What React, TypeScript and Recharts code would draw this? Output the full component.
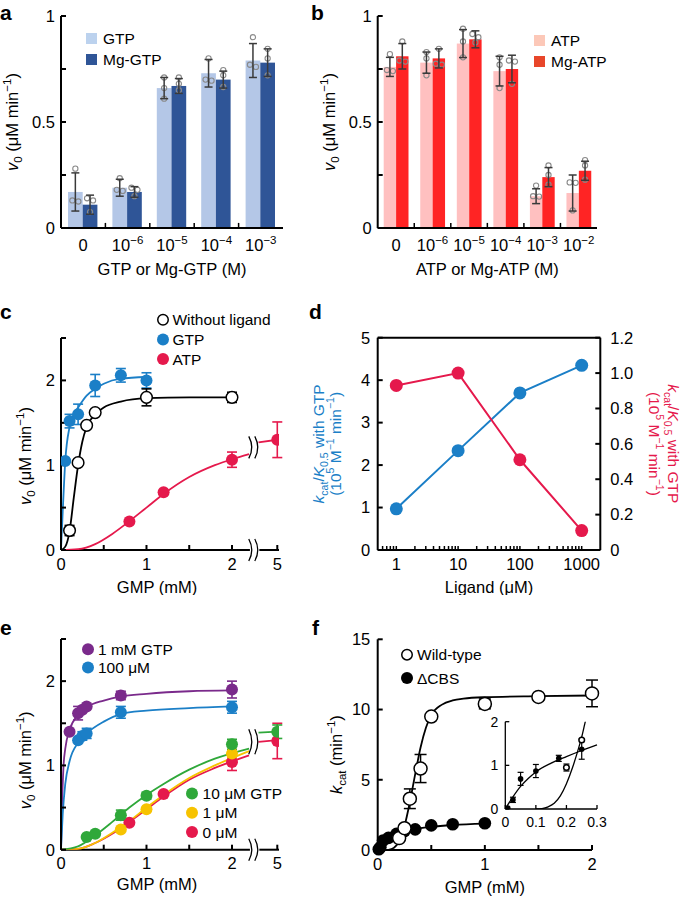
import React from "react";
import {
  ComposedChart,
  Bar,
  Line,
  Scatter,
  XAxis,
  YAxis,
  ErrorBar,
  ReferenceLine,
  ReferenceDot,
  Legend,
} from "recharts";

const FONT = "'Liberation Sans', Arial, Helvetica, sans-serif";
const BLUE = "#1b7fc7";
const RED = "#e5194c";
const PURPLE = "#7a2a8b";
const GREEN = "#2fa83a";
const YELLOW = "#f7c300";

// ---- a: GTP / Mg-GTP
const gtpExp = ["0", "-6", "-5", "-4", "-3"];
const gtpMean = [0.17, 0.19, 0.66, 0.73, 0.79];
const gtpSd = [0.09, 0.04, 0.05, 0.065, 0.08];
const gtpReps = [[0.28, 0.13, 0.125], [0.235, 0.18, 0.175], [0.71, 0.66, 0.61], [0.8, 0.7, 0.695], [0.9, 0.77, 0.76]];
const mgGtpMean = [0.11, 0.17, 0.67, 0.7, 0.78];
const mgGtpSd = [0.045, 0.025, 0.035, 0.04, 0.065];
const mgGtpReps = [[0.14, 0.13, 0.075], [0.19, 0.18, 0.15], [0.71, 0.68, 0.65], [0.745, 0.72, 0.665], [0.845, 0.8, 0.72]];

// ---- b: ATP / Mg-ATP
const atpExp = ["0", "-6", "-5", "-4", "-3", "-2"];
const atpMean = [0.76, 0.78, 0.87, 0.74, 0.15, 0.165];
const atpSd = [0.045, 0.05, 0.066, 0.07, 0.035, 0.085];
const atpReps = [[0.82, 0.745, 0.74], [0.83, 0.8, 0.72], [0.94, 0.88, 0.805], [0.805, 0.77, 0.66], [0.2, 0.15, 0.148], [0.215, 0.213, 0.083]];
const mgAtpMean = [0.81, 0.8, 0.89, 0.75, 0.24, 0.27];
const mgAtpSd = [0.06, 0.045, 0.04, 0.065, 0.045, 0.045];
const mgAtpReps = [[0.88, 0.79, 0.785], [0.845, 0.775, 0.77], [0.915, 0.9, 0.875], [0.79, 0.785, 0.68], [0.295, 0.25, 0.205], [0.32, 0.295, 0.228]];

// ---- c: v0 vs GMP
const cFreeX = [0.1, 0.2, 0.3, 0.4, 1, 2];
const cFreeY = [0.23, 1.03, 1.47, 1.62, 1.8, 1.8];
const cFreeErr = [0.06, 0, 0, 0, 0.1, 0.06];
const cGtpX = [0.05, 0.1, 0.2, 0.4, 0.7, 1];
const cGtpY = [1.05, 1.52, 1.6, 1.94, 2.06, 2.0];
const cGtpErr = [0, 0.08, 0.12, 0.13, 0.08, 0.09];
const cAtpX = [0.8, 1.2, 2, 5];
const cAtpY = [0.335, 0.68, 1.065, 1.3];
const cAtpErr = [0, 0, 0.09, 0.21];
const cFreeFitX = [0, 0.05, 0.1, 0.15, 0.2, 0.25, 0.3, 0.4, 0.5, 0.7, 1, 1.5, 2];
const cFreeFitY = [0, 0.04, 0.22, 0.62, 1.0, 1.28, 1.45, 1.6, 1.68, 1.75, 1.79, 1.8, 1.8];
const cGtpFitX = [0, 0.02, 0.05, 0.1, 0.15, 0.2, 0.3, 0.4, 0.5, 0.7, 1];
const cGtpFitY = [0, 0.45, 1.05, 1.45, 1.6, 1.68, 1.82, 1.9, 1.96, 2.02, 2.04];
const cAtpFitX = [0, 0.2, 0.4, 0.6, 0.8, 1, 1.2, 1.5, 1.8, 2, 2.2];
const cAtpFitY = [0, 0.01, 0.07, 0.19, 0.34, 0.5, 0.66, 0.86, 1.0, 1.07, 1.13];
const cAtpTailX = [2.8, 5];
const cAtpTailY = [1.27, 1.3];

// ---- d: kcat/K0.5 vs ligand
const dLigand = [1, 10, 100, 1000];
const dGtpEff = [0.97, 2.34, 3.7, 4.35];
const dAtpEff = [0.93, 1.0, 0.51, 0.11];
const dDecades = [1, 10, 100, 1000];

// ---- e: GTP titration
const eG1000X = [0.1, 0.2, 0.25, 0.3, 0.7, 2];
const eG1000Y = [1.4, 1.62, 1.66, 1.7, 1.83, 1.9];
const eG1000Err = [0, 0.08, 0, 0, 0.05, 0.1];
const eG100X = [0.2, 0.25, 0.3, 0.7, 2];
const eG100Y = [1.3, 1.35, 1.38, 1.63, 1.69];
const eG100Err = [0, 0.05, 0.06, 0.07, 0.07];
const eG10X = [0.3, 0.4, 0.7, 1, 2, 5];
const eG10Y = [0.15, 0.19, 0.41, 0.64, 1.25, 1.4];
const eG10Err = [0, 0, 0.06, 0.04, 0.06, 0.08];
const eG1X = [0.7, 1, 2];
const eG1Y = [0.24, 0.48, 1.14];
const eG1Err = [0, 0, 0.05];
const eG0X = [0.8, 1.2, 2, 5];
const eG0Y = [0.32, 0.66, 1.04, 1.29];
const eG0Err = [0, 0, 0.1, 0.21];
const eG1000FitX = [0, 0.01, 0.03, 0.05, 0.1, 0.2, 0.3, 0.5, 0.7, 1, 1.5, 2];
const eG1000FitY = [0, 0.45, 1.0, 1.2, 1.42, 1.6, 1.69, 1.77, 1.82, 1.85, 1.88, 1.89];
const eG100FitX = [0, 0.02, 0.05, 0.1, 0.2, 0.3, 0.5, 0.7, 1, 1.5, 2];
const eG100FitY = [0, 0.42, 0.78, 1.05, 1.27, 1.38, 1.52, 1.61, 1.65, 1.68, 1.7];
const eLowFitX = [0, 0.2, 0.4, 0.6, 0.8, 1, 1.2, 1.5, 1.8, 2.2];
const eG10FitY = [0, 0.04, 0.17, 0.33, 0.5, 0.65, 0.78, 0.95, 1.08, 1.2];
const eG1FitY = [0, 0.01, 0.08, 0.2, 0.34, 0.5, 0.65, 0.85, 1.0, 1.17];
const eG0FitY = [0, 0.01, 0.08, 0.19, 0.33, 0.48, 0.63, 0.83, 0.97, 1.12];
const eTailX = [2.8, 5];
const eG10TailY = [1.39, 1.4];
const eG0TailY = [1.28, 1.3];

// ---- f: kcat, wild-type vs dCBS
const fWtX = [0.2, 0.25, 0.3, 0.4, 0.5, 1, 1.5, 2];
const fWtY = [0.85, 1.55, 3.65, 5.8, 9.5, 10.4, 10.9, 11.15];
const fWtErr = [0, 0, 0.7, 1.0, 0, 0.35, 0, 0.95];
const fCbsX = [0.01, 0.025, 0.05, 0.1, 0.175, 0.25, 0.35, 0.5, 0.7, 1];
const fCbsY = [0.05, 0.2, 0.68, 0.86, 1.15, 1.35, 1.47, 1.75, 1.83, 1.9];
const fWtFitX = [0.1, 0.15, 0.2, 0.25, 0.3, 0.35, 0.4, 0.45, 0.5, 0.6, 0.7, 0.8, 1, 1.5, 2];
const fWtFitY = [0, 0.15, 0.6, 1.7, 3.4, 5.4, 7.3, 8.7, 9.6, 10.35, 10.65, 10.78, 10.88, 10.95, 11.0];
const fCbsFitX = [0, 0.05, 0.1, 0.2, 0.3, 0.5, 0.7, 1];
const fCbsFitY = [0, 0.52, 0.85, 1.2, 1.42, 1.65, 1.78, 1.88];
// inset
const inWtX = [0.2, 0.25];
const inWtY = [0.95, 1.58];
const inWtErr = [0.08, 0];
const inCbsX = [0.008, 0.025, 0.05, 0.1, 0.175, 0.25];
const inCbsY = [0.02, 0.21, 0.69, 0.87, 1.16, 1.37];
const inCbsErr = [0, 0.06, 0.15, 0.15, 0.07, 0.23];
const inCbsFitX = [0, 0.025, 0.05, 0.075, 0.1, 0.15, 0.2, 0.25, 0.3];
const inCbsFitY = [0, 0.28, 0.52, 0.7, 0.85, 1.05, 1.2, 1.34, 1.47];
const inWtFitX = [0.1, 0.12, 0.14, 0.16, 0.18, 0.2, 0.22, 0.24, 0.25, 0.26, 0.265];
const inWtFitY = [0, 0.01, 0.05, 0.13, 0.3, 0.58, 0.95, 1.4, 1.65, 1.95, 2.1];

// broken GMP axis: everything past the break is squeezed next to "5"
const brk = (v: number) => (v <= 2.25 ? v : 2.53 - (5 - v) * 0.1);
const pts = (xs: number[], ys: number[], es?: number[]) =>
  xs.map((x, i) => ({ x: brk(x), y: ys[i], e: es ? es[i] : 0 }));

const axisLine = { stroke: "#000", strokeWidth: 2 };
const tickFont = { fill: "#000", fontSize: 16.5, fontFamily: FONT };

function spread(vals: number[]) {
  const offs = vals.map(() => 0);
  const used = new Set<number>();
  vals.forEach((v) => {
    const group = vals.map((_, j) => j).filter((j) => !used.has(j) && Math.abs(vals[j] - v) < 0.022);
    group.forEach((j, k) => {
      offs[j] = (k - (group.length - 1) / 2) * 6;
      used.add(j);
    });
  });
  return offs;
}

const barWithReps = (key: string) => (p: any) => {
  const { x, y, width, height, fill, payload } = p;
  const v = Array.isArray(p.value) ? p.value[1] : p.value;
  const base = y + height;
  const k = height / v;
  const reps: number[] = payload[key];
  const offs = spread(reps);
  return (
    <g>
      <rect x={x} y={y} width={width} height={height} fill={fill} />
      {reps.map((r, i) => (
        <circle key={i} cx={x + width / 2 + offs[i]} cy={base - r * k} r={2.6} fill="none" stroke="#8a8a8a" strokeWidth={1.1} />
      ))}
    </g>
  );
};

const powTick = (labels: string[]) => (p: any) => {
  const e = labels[p.payload.value];
  return (
    <text x={p.x} y={p.y} dy="0.71em" textAnchor="middle" fontSize={16.5} fontFamily={FONT} fill="#000">
      {e === "0" ? "0" : (
        <>
          10<tspan fontSize={11.5} dy={-7}>{"\u2212" + e.slice(1)}</tspan>
        </>
      )}
    </text>
  );
};

const yTitle = (content: React.ReactNode, dx: number, dy = 0, angle = -90, fill = "#000", size = 16.5) => (p: any) => {
  const vb = p.viewBox;
  const x = vb.x + dx;
  const y = vb.y + vb.height / 2 + dy;
  return (
    <text transform={`translate(${x},${y}) rotate(${angle})`} textAnchor="middle" fontSize={size} fontFamily={FONT} fill={fill}>
      {content}
    </text>
  );
};

const xTitle = (content: React.ReactNode, dx: number, dy: number) => (p: any) => {
  const vb = p.viewBox;
  return (
    <text x={vb.x + vb.width / 2 + dx} y={vb.y + dy} textAnchor="middle" fontSize={16.5} fontFamily={FONT} fill="#000">
      {content}
    </text>
  );
};

const V0 = (
  <>
    <tspan fontStyle="italic">v</tspan>
    <tspan fontSize={11.5} dy={4}>0</tspan>
    <tspan dy={-4}> (μM min</tspan>
    <tspan fontSize={11.5} dy={-7}>−1</tspan>
    <tspan dy={7}>)</tspan>
  </>
);

const effLine1 = (
  <>
    <tspan fontStyle="italic">k</tspan>
    <tspan fontSize={10.5} dy={4}>cat</tspan>
    <tspan dy={-4}>/</tspan>
    <tspan fontStyle="italic">K</tspan>
    <tspan fontSize={10.5} dy={4}>0.5</tspan>
    <tspan dy={-4}> with GTP</tspan>
  </>
);
const effLine2 = (
  <>
    (10<tspan fontSize={10.5} dy={-7}>5</tspan>
    <tspan dy={7}> M</tspan>
    <tspan fontSize={10.5} dy={-7}>−1</tspan>
    <tspan dy={7}> min</tspan>
    <tspan fontSize={10.5} dy={-7}>−1</tspan>
    <tspan dy={7}>)</tspan>
  </>
);
const effTitle = (gap: number) => (
  <>
    <tspan x={0} y={0}>{effLine1}</tspan>
    <tspan x={0} y={gap}>{effLine2}</tspan>
  </>
);

type LegItem = { label: React.ReactNode; kind: "swatch" | "open" | "dot"; color: string };
const legendBox = (items: LegItem[], rowH: number, textX: number, size: number) => () => (
  <svg width={160} height={items.length * rowH} style={{ display: "block", overflow: "visible" }}>
    {items.map((it, i) => {
      const cy = i * rowH + rowH / 2;
      return (
        <g key={i}>
          {it.kind === "swatch" ? (
            <rect x={0} y={cy - size / 2} width={size} height={size} fill={it.color} />
          ) : (
            <circle
              cx={size / 2}
              cy={cy}
              r={it.kind === "open" ? size / 2 - 0.75 : size / 2}
              fill={it.kind === "open" ? "#fff" : it.color}
              stroke={it.kind === "open" ? it.color : "none"}
              strokeWidth={1.5}
            />
          )}
          <text x={textX} y={cy} dy="0.36em" fontSize={15.5} fontFamily={FONT} fill="#000">
            {it.label}
          </text>
        </g>
      );
    })}
  </svg>
);

const breakMark = (h: number) => (p: any) => (
  <g fill="none" stroke="#000" strokeWidth={1.3}>
    <path d={`M${p.cx - 5},${p.cy - h} Q${p.cx + 1},${p.cy} ${p.cx - 5},${p.cy + h}`} />
    <path d={`M${p.cx + 1},${p.cy - h} Q${p.cx + 7},${p.cy} ${p.cx + 1},${p.cy + h}`} />
  </g>
);

const dotShape = (r: number, color: string, open = false) => (p: any) => (
  <circle cx={p.cx} cy={p.cy} r={r} fill={open ? "#fff" : color} stroke={color} strokeWidth={open ? 1.5 : 0} />
);

const Box = ({ left, top, children }: { left: number; top: number; children: React.ReactNode }) => (
  <div style={{ position: "absolute", left, top }}>{children}</div>
);

function BarPanel(props: {
  width: number;
  margin: any;
  exps: string[];
  meanA: number[];
  sdA: number[];
  repsA: number[][];
  meanB: number[];
  sdB: number[];
  repsB: number[][];
  colA: string;
  colB: string;
  barSize: number;
  title: React.ReactNode;
  yDx: number;
  legend: LegItem[];
  legendPos: { left: number; top: number };
}) {
  const rows = props.exps.map((e, i) => ({
    i,
    a: props.meanA[i],
    aSd: props.sdA[i],
    aReps: props.repsA[i],
    b: props.meanB[i],
    bSd: props.sdB[i],
    bReps: props.repsB[i],
  }));
  const n = props.exps.length;
  const bounds = props.exps.slice(1).map((_, i) => i + 0.5);
  return (
    <ComposedChart width={props.width} height={290} data={rows} margin={props.margin} barGap={0}>
      <XAxis
        dataKey="i"
        type="number"
        domain={[-0.5, n - 0.5]}
        ticks={rows.map((r) => r.i)}
        interval={0}
        height={1}
        axisLine={axisLine}
        tickLine={false}
        tickSize={0}
        tickMargin={11}
        tick={powTick(props.exps)}
        label={xTitle(props.title, 0, 47)}
      />
      <YAxis
        type="number"
        domain={[0, 1]}
        ticks={[0, 0.25, 0.5, 0.75, 1]}
        interval={0}
        width={1}
        axisLine={axisLine}
        tickLine={axisLine}
        tickSize={-5}
        tickMargin={11}
        tick={tickFont}
        tickFormatter={(v: number) => (v === 0.25 || v === 0.75 ? "" : String(v))}
        label={yTitle(V0, props.yDx)}
      />
      {bounds.map((b) => (
        <ReferenceLine key={b} segment={[{ x: b, y: 0 }, { x: b, y: 0.024 }]} stroke="#000" strokeWidth={1.5} />
      ))}
      <Bar dataKey="a" fill={props.colA} barSize={props.barSize} isAnimationActive={false} shape={barWithReps("aReps")}>
        <ErrorBar dataKey="aSd" direction="y" width={4} stroke="#3a3a3a" strokeWidth={1.5} />
      </Bar>
      <Bar dataKey="b" fill={props.colB} barSize={props.barSize} isAnimationActive={false} shape={barWithReps("bReps")}>
        <ErrorBar dataKey="bSd" direction="y" width={4} stroke="#3a3a3a" strokeWidth={1.5} />
      </Bar>
      <Legend
        layout="vertical"
        align="center"
        verticalAlign="middle"
        wrapperStyle={{ left: props.legendPos.left, top: props.legendPos.top, width: 160 }}
        content={legendBox(props.legend, 21, 17, 11)}
      />
    </ComposedChart>
  );
}

const gmpTicks = [0, 0.5, 1, 1.5, 2, brk(5)];
const gmpFmt = (v: number) => (v === brk(5) ? "5" : Number.isInteger(v) ? String(v) : "");

function GmpAxes(yDy: number, xDy: number) {
  return [
    <XAxis
      key="x"
      dataKey="x"
      type="number"
      domain={[0, 2.55]}
      allowDataOverflow
      ticks={gmpTicks}
      interval={0}
      height={1}
      axisLine={false}
      tickLine={axisLine}
      tickSize={-5}
      tickMargin={13}
      tick={tickFont}
      tickFormatter={gmpFmt}
      label={xTitle("GMP (mM)", -13, xDy)}
    />,
    <YAxis
      key="y"
      dataKey="y"
      type="number"
      domain={[0, 2.5]}
      allowDataOverflow
      ticks={[0, 0.5, 1, 1.5, 2, 2.5]}
      interval={0}
      width={1}
      axisLine={axisLine}
      tickLine={axisLine}
      tickSize={-5}
      tickMargin={11}
      tick={tickFont}
      tickFormatter={(v: number) => (Number.isInteger(v) && v < 2.5 ? String(v) : "")}
      label={yTitle(V0, -28.6, yDy)}
    />,
    <ReferenceLine key="ax1" segment={[{ x: 0, y: 0 }, { x: 2.21, y: 0 }]} stroke="#000" strokeWidth={2} ifOverflow="visible" />,
    <ReferenceLine key="ax2" segment={[{ x: 2.32, y: 0 }, { x: 2.55, y: 0 }]} stroke="#000" strokeWidth={2} ifOverflow="visible" />,
    <ReferenceDot key="bk" x={2.255} y={0} r={1} ifOverflow="visible" shape={breakMark(11)} />,
  ];
}

const fitLine = (key: string, xs: number[], ys: number[], color: string) => (
  <Line
    key={key}
    data={pts(xs, ys)}
    dataKey="y"
    type="monotone"
    stroke={color}
    strokeWidth={1.8}
    dot={false}
    activeDot={false}
    isAnimationActive={false}
  />
);

const scatter = (key: string, data: any[], color: string, r: number, open = false, errW = 5) => (
  <Scatter key={key} data={data} fill={color} isAnimationActive={false} shape={dotShape(r, color, open)}>
    <ErrorBar dataKey="e" direction="y" width={errW} stroke={color} strokeWidth={1.6} />
  </Scatter>
);

export default function App() {
  const dRows = dLigand.map((l, i) => ({ lig: l, gtp: dGtpEff[i], atp: dAtpEff[i] }));
  // minor log ticks up to the last decade
  const dTicks: number[] = [0.6, 0.7, 0.8, 0.9];
  dDecades.forEach((d) => [1, 2, 3, 4, 5, 6, 7, 8, 9].forEach((m) => d * m <= 1000 && dTicks.push(d * m)));

  return (
    <div style={{ position: "absolute", left: 0, top: 0, width: 685, height: 898, background: "#fff", fontFamily: FONT }}>
      {/* a */}
      <Box left={0} top={0}>
        <BarPanel
          width={300}
          margin={{ top: 16, left: 60, right: 17, bottom: 61 }}
          exps={gtpExp}
          meanA={gtpMean}
          sdA={gtpSd}
          repsA={gtpReps}
          meanB={mgGtpMean}
          sdB={mgGtpSd}
          repsB={mgGtpReps}
          colA="#b4c7e7"
          colB="#2f5597"
          barSize={14.7}
          title="GTP or Mg-GTP (M)"
          yDx={-41.6}
          legend={[
            { label: "GTP", kind: "swatch", color: "#bcd2ee" },
            { label: "Mg-GTP", kind: "swatch", color: "#2f5597" },
          ]}
          legendPos={{ left: 86, top: 28 }}
        />
      </Box>
      {/* b */}
      <Box left={300} top={0}>
        <BarPanel
          width={385}
          margin={{ top: 16, left: 76.7, right: 88, bottom: 61 }}
          exps={atpExp}
          meanA={atpMean}
          sdA={atpSd}
          repsA={atpReps}
          meanB={mgAtpMean}
          sdB={mgAtpSd}
          repsB={mgAtpReps}
          colA="#ffc0c0"
          colB="#ff2424"
          barSize={12.4}
          title="ATP or Mg-ATP (M)"
          yDx={-41.3}
          legend={[
            { label: "ATP", kind: "swatch", color: "#fcc8b8" },
            { label: "Mg-ATP", kind: "swatch", color: "#e8462a" },
          ]}
          legendPos={{ left: 233.7, top: 30 }}
        />
      </Box>

      {/* c */}
      <Box left={0} top={295}>
        <ComposedChart width={300} height={300} margin={{ top: 43, left: 60, right: 21, bottom: 44 }}>
          {GmpAxes(12, 43)}
          <ReferenceDot x={2.255} y={1.21} r={1} ifOverflow="visible" shape={breakMark(11)} />
          {fitLine("cf", cFreeFitX, cFreeFitY, "#000")}
          {fitLine("cg", cGtpFitX, cGtpFitY, BLUE)}
          {fitLine("ca", cAtpFitX, cAtpFitY, RED)}
          {fitLine("cat", cAtpTailX, cAtpTailY, RED)}
          {scatter("sg", pts(cGtpX, cGtpY, cGtpErr), BLUE, 6)}
          {scatter("sa", pts(cAtpX, cAtpY, cAtpErr), RED, 6)}
          {scatter("sf", pts(cFreeX, cFreeY, cFreeErr), "#000", 5.8, true)}
          <Legend
            layout="vertical"
            align="center"
            verticalAlign="middle"
            wrapperStyle={{ left: 157.3, top: 15.2, width: 160 }}
            content={legendBox(
              [
                { label: "Without ligand", kind: "open", color: "#000" },
                { label: "GTP", kind: "dot", color: BLUE },
                { label: "ATP", kind: "dot", color: RED },
              ],
              19.6,
              15.4,
              12,
            )}
          />
        </ComposedChart>
      </Box>

      {/* d */}
      <Box left={300} top={295}>
        <ComposedChart width={385} height={300} data={dRows} margin={{ top: 42.7, left: 76.7, right: 83.7, bottom: 44 }}>
          <XAxis
            dataKey="lig"
            type="number"
            scale="log"
            domain={[0.5, 2000]}
            allowDataOverflow
            ticks={dTicks}
            interval={0}
            height={1}
            axisLine={axisLine}
            tickLine={{ stroke: "#000", strokeWidth: 1.5 }}
            tickSize={-4}
            tickMargin={12}
            tick={tickFont}
            tickFormatter={(v: number) => (dDecades.includes(v) ? String(v) : "")}
            label={xTitle(<>Ligand (μM)</>, 0, 43)}
          />
          <YAxis
            yAxisId="l"
            type="number"
            domain={[0, 5]}
            ticks={[0, 1, 2, 3, 4, 5]}
            interval={0}
            width={1}
            axisLine={axisLine}
            tickLine={axisLine}
            tickSize={-5}
            tickMargin={12.4}
            tick={tickFont}
            label={yTitle(effTitle(17), -52.7, 0, -90, BLUE, 15.5)}
          />
          <YAxis
            yAxisId="r"
            orientation="right"
            type="number"
            domain={[0, 1.2]}
            ticks={[0, 0.2, 0.4, 0.6, 0.8, 1.0, 1.2]}
            interval={0}
            width={1}
            axisLine={axisLine}
            tickLine={axisLine}
            tickSize={-5}
            tickMargin={15}
            tick={tickFont}
            tickFormatter={(v: number) => (v === 0 ? "0" : v.toFixed(1))}
            label={yTitle(effTitle(19), 68, 0, 90, RED, 15.5)}
          />
          <ReferenceLine yAxisId="l" y={5} stroke="#000" strokeWidth={2} />
          <Line
            yAxisId="l"
            dataKey="gtp"
            type="linear"
            stroke={BLUE}
            strokeWidth={2}
            dot={{ r: 6.5, fill: BLUE, stroke: BLUE, strokeWidth: 0 }}
            activeDot={false}
            isAnimationActive={false}
          />
          <Line
            yAxisId="r"
            dataKey="atp"
            type="linear"
            stroke={RED}
            strokeWidth={2}
            dot={{ r: 6.5, fill: RED, stroke: RED, strokeWidth: 0 }}
            activeDot={false}
            isAnimationActive={false}
          />
        </ComposedChart>
      </Box>

      {/* e */}
      <Box left={0} top={590}>
        <ComposedChart width={300} height={308} margin={{ top: 49, left: 60, right: 21, bottom: 47.3 }}>
          {GmpAxes(16, 40)}
          <ReferenceDot x={2.255} y={1.28} r={1} ifOverflow="visible" shape={breakMark(12.5)} />
          {fitLine("f1000", eG1000FitX, eG1000FitY, PURPLE)}
          {fitLine("f100", eG100FitX, eG100FitY, BLUE)}
          {fitLine("f0", eLowFitX, eG0FitY, RED)}
          {fitLine("f0t", eTailX, eG0TailY, RED)}
          {fitLine("f1", eLowFitX, eG1FitY, YELLOW)}
          {fitLine("f10", eLowFitX, eG10FitY, GREEN)}
          {fitLine("f10t", eTailX, eG10TailY, GREEN)}
          {scatter("s1000", pts(eG1000X, eG1000Y, eG1000Err), PURPLE, 6)}
          {scatter("s100", pts(eG100X, eG100Y, eG100Err), BLUE, 6)}
          {scatter("s0", pts(eG0X, eG0Y, eG0Err), RED, 6)}
          {scatter("s1", pts(eG1X, eG1Y, eG1Err), YELLOW, 6)}
          {scatter("s10", pts(eG10X, eG10Y, eG10Err), GREEN, 6)}
          <Legend
            layout="vertical"
            align="center"
            verticalAlign="middle"
            wrapperStyle={{ left: 82.3, top: 50.1, width: 160 }}
            content={legendBox(
              [
                { label: "1 mM GTP", kind: "dot", color: PURPLE },
                { label: "100 μM", kind: "dot", color: BLUE },
              ],
              18.4,
              16,
              12,
            )}
          />
        </ComposedChart>
        {/* second legend block for the low-GTP series */}
        <div style={{ position: "absolute", left: 185.7, top: 194.4 }}>
          {legendBox(
            [
              { label: "10 μM GTP", kind: "dot", color: GREEN },
              { label: "1 μM", kind: "dot", color: YELLOW },
              { label: "0 μM", kind: "dot", color: RED },
            ],
            19.2,
            16.6,
            12,
          )()}
        </div>
      </Box>

      {/* f */}
      <Box left={300} top={590}>
        <ComposedChart width={385} height={308} margin={{ top: 49.3, left: 76.7, right: 93, bottom: 47 }}>
          <XAxis
            dataKey="x"
            type="number"
            domain={[0, 2]}
            ticks={[0, 0.5, 1, 1.5, 2]}
            interval={0}
            height={1}
            axisLine={axisLine}
            tickLine={axisLine}
            tickSize={-5}
            tickMargin={13}
            tick={tickFont}
            tickFormatter={(v: number) => (Number.isInteger(v) ? String(v) : "")}
            label={xTitle("GMP (mM)", 0, 43)}
          />
          <YAxis
            dataKey="y"
            type="number"
            domain={[0, 15]}
            ticks={[0, 5, 10, 15]}
            interval={0}
            width={1}
            axisLine={axisLine}
            tickLine={axisLine}
            tickSize={-5}
            tickMargin={12.4}
            tick={tickFont}
            label={yTitle(
              <>
                <tspan fontStyle="italic">k</tspan>
                <tspan fontSize={11.5} dy={4}>cat</tspan>
                <tspan dy={-4}> (min</tspan>
                <tspan fontSize={11.5} dy={-7}>−1</tspan>
                <tspan dy={7}>)</tspan>
              </>,
              -34.3,
              10,
            )}
          />
          <Line data={fCbsFitX.map((x, i) => ({ x, y: fCbsFitY[i] }))} dataKey="y" type="monotone" stroke="#000" strokeWidth={1.8} dot={false} activeDot={false} isAnimationActive={false} />
          <Line data={fWtFitX.map((x, i) => ({ x, y: fWtFitY[i] }))} dataKey="y" type="monotone" stroke="#000" strokeWidth={1.8} dot={false} activeDot={false} isAnimationActive={false} />
          <Scatter data={fCbsX.map((x, i) => ({ x, y: fCbsY[i] }))} fill="#000" isAnimationActive={false} shape={dotShape(6.3, "#000")} />
          <Scatter data={fWtX.map((x, i) => ({ x, y: fWtY[i], e: fWtErr[i] }))} fill="#000" isAnimationActive={false} shape={dotShape(6.5, "#000", true)}>
            <ErrorBar dataKey="e" direction="y" width={6} stroke="#000" strokeWidth={1.5} />
          </Scatter>
          <Legend
            layout="vertical"
            align="center"
            verticalAlign="middle"
            wrapperStyle={{ left: 101, top: 53.35, width: 160 }}
            content={legendBox(
              [
                { label: "Wild-type", kind: "open", color: "#000" },
                { label: "ΔCBS", kind: "dot", color: "#000" },
              ],
              23.3,
              16,
              12,
            )}
          />
        </ComposedChart>
      </Box>

      {/* f inset */}
      <Box left={455} top={700}>
        <ComposedChart width={160} height={140} margin={{ top: 21.7, left: 49.3, right: 18, bottom: 30 }}>
          <XAxis
            dataKey="x"
            type="number"
            domain={[0, 0.3]}
            ticks={[0, 0.1, 0.2, 0.3]}
            interval={0}
            height={1}
            axisLine={{ stroke: "#000", strokeWidth: 1.3 }}
            tickLine={{ stroke: "#000", strokeWidth: 1.3 }}
            tickSize={-4}
            tickMargin={12}
            tick={{ ...tickFont, fontSize: 14 }}
            tickFormatter={(v: number) => (v === 0 ? "0" : v.toFixed(1))}
          />
          <YAxis
            dataKey="y"
            type="number"
            domain={[0, 2]}
            allowDataOverflow
            ticks={[0, 1, 2]}
            interval={0}
            width={1}
            axisLine={{ stroke: "#000", strokeWidth: 1.3 }}
            tickLine={{ stroke: "#000", strokeWidth: 1.3 }}
            tickSize={-4}
            tickMargin={11}
            tick={{ ...tickFont, fontSize: 14 }}
          />
          <Line data={inCbsFitX.map((x, i) => ({ x, y: inCbsFitY[i] }))} dataKey="y" type="monotone" stroke="#000" strokeWidth={1.3} dot={false} activeDot={false} isAnimationActive={false} />
          <Line data={inWtFitX.map((x, i) => ({ x, y: inWtFitY[i] }))} dataKey="y" type="monotone" stroke="#000" strokeWidth={1.3} dot={false} activeDot={false} isAnimationActive={false} />
          <Scatter data={inCbsX.map((x, i) => ({ x, y: inCbsY[i], e: inCbsErr[i] }))} fill="#000" isAnimationActive={false} shape={dotShape(2.8, "#000")}>
            <ErrorBar dataKey="e" direction="y" width={3} stroke="#000" strokeWidth={1.2} />
          </Scatter>
          <Scatter data={inWtX.map((x, i) => ({ x, y: inWtY[i], e: inWtErr[i] }))} fill="#000" isAnimationActive={false} shape={dotShape(2.8, "#000", true)}>
            <ErrorBar dataKey="e" direction="y" width={3} stroke="#000" strokeWidth={1.2} />
          </Scatter>
        </ComposedChart>
      </Box>

      <svg width={685} height={898} style={{ position: "absolute", left: 0, top: 0, pointerEvents: "none" }}>
        <g fontFamily={FONT} fontWeight="bold" fontSize={21} fill="#000">
          <text x={0} y={20}>a</text>
          <text x={311} y={20}>b</text>
          <text x={0} y={319}>c</text>
          <text x={309} y={319}>d</text>
          <text x={0} y={635}>e</text>
          <text x={312} y={635}>f</text>
        </g>
      </svg>
    </div>
  );
}
